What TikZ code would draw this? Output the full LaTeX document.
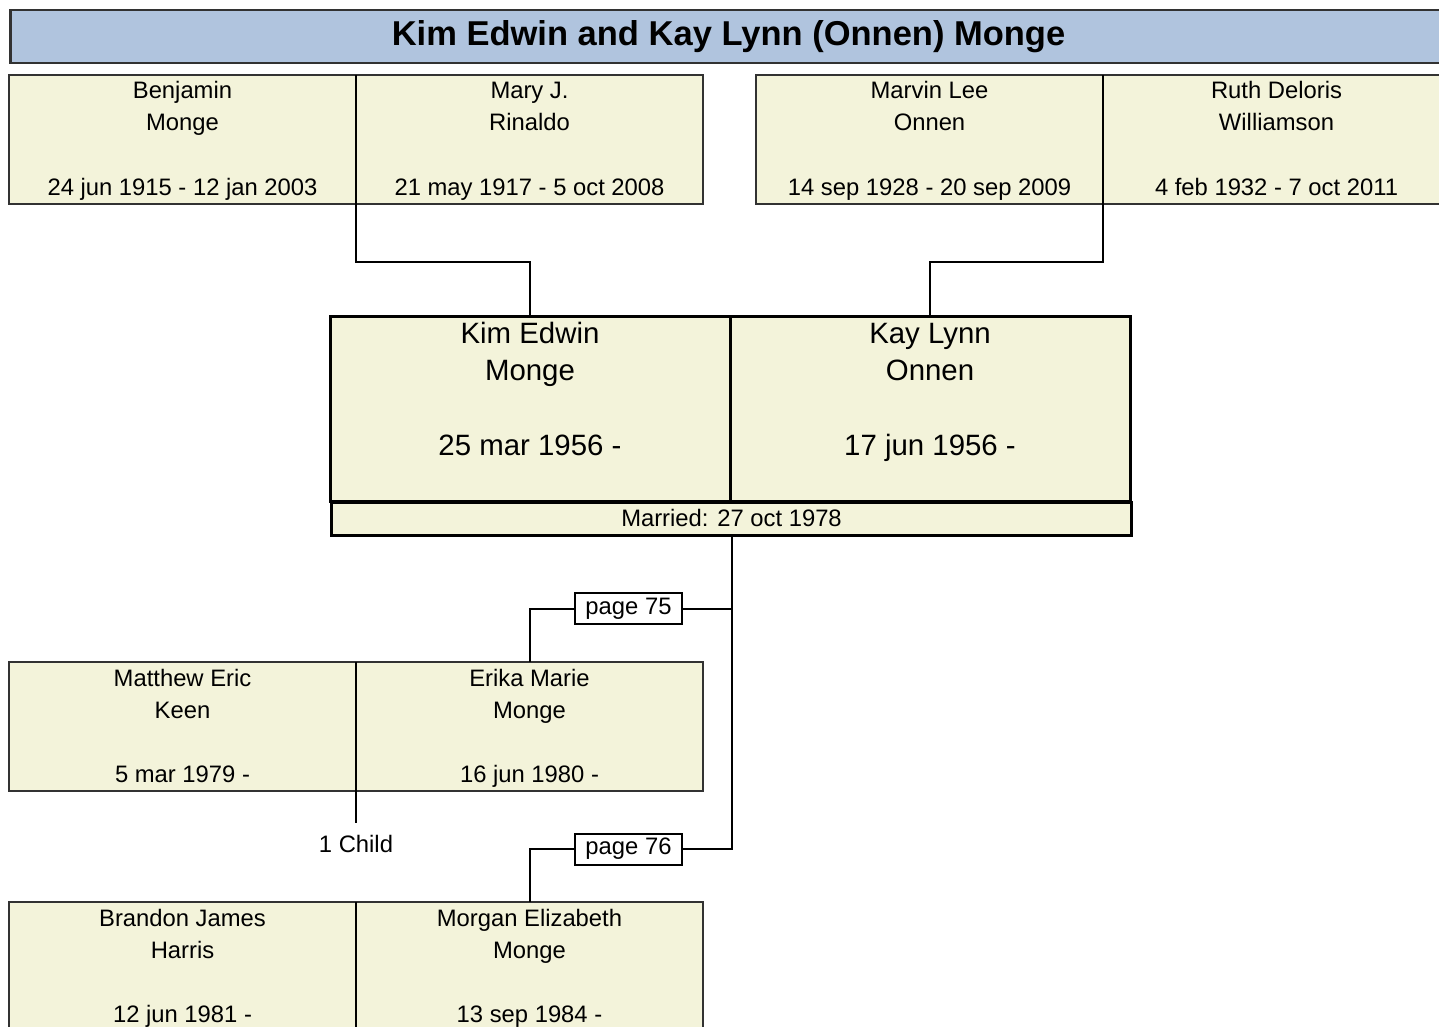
\documentclass[tikz,border=0pt]{standalone}
\usepackage{fontspec}
\setmainfont{Liberation Sans}
\usetikzlibrary{calc}
\definecolor{titlefill}{RGB}{176,196,222}
\definecolor{boxfill}{RGB}{243,243,218}
\definecolor{boxline}{RGB}{50,50,50}
\tikzset{
  pbox/.style={draw=boxline, line width=1.5pt, fill=boxfill, minimum width=347pt,
    minimum height=129pt, anchor=north west, inner sep=0pt, outer sep=0pt},
  mbox/.style={draw=black, line width=3pt, fill=boxfill, minimum width=400pt,
    minimum height=185pt, anchor=north west, inner sep=0pt, outer sep=0pt},
  ptext/.style={anchor=base, font=\fontsize{23.8}{28}\selectfont, inner sep=0pt},
  mtext/.style={anchor=base, font=\fontsize{29.4}{34}\selectfont, inner sep=0pt},
  conn/.style={draw=black, line width=2pt},
  pagebox/.style={draw=black, line width=2pt, fill=white, minimum width=107pt,
    minimum height=31pt, inner sep=0pt, font=\fontsize{23.8}{28}\selectfont},
}
\newcommand\smallperson[6]{%
  \node[pbox] (#1) at (#2,#3) {};
  \node[ptext] (#1-a) at ($(#1.north)+(0,24)$) {#4};
  \node[ptext] (#1-b) at ($(#1.north)+(0,56)$) {#5};
  \node[ptext] (#1-c) at ($(#1.north)+(0,120)$) {#6};
}
\newcommand\mainperson[6]{%
  \node[mbox] (#1) at (#2,#3) {};
  \node[mtext] (#1-a) at ($(#1.north)+(0,27)$) {#4};
  \node[mtext] (#1-b) at ($(#1.north)+(0,64)$) {#5};
  \node[mtext] (#1-c) at ($(#1.north)+(0,139)$) {#6};
}
\begin{document}
\begin{tikzpicture}[x=1pt,y=-1pt]
\useasboundingbox (0,0) rectangle (1439,1027);
\clip (0,0) rectangle (1439,1027);
\fill[white] (0,0) rectangle (1439,1027);
% title
\node[draw=boxline, line width=2.5pt, fill=titlefill, minimum width=1460pt, minimum height=53pt,
  anchor=north west, inner sep=0pt] (titlebar) at (9,9) {};
\node[anchor=base, inner sep=0pt, font=\bfseries\fontsize{34.5}{40}\selectfont] (title) at (728.5,46)
  {Kim Edwin and Kay Lynn (Onnen) Monge};
% grandparents
\smallperson{bm}{9}{75}{Benjamin}{Monge}{24 jun 1915 - 12 jan 2003}
\smallperson{mr}{356}{75}{Mary J.}{Rinaldo}{21 may 1917 - 5 oct 2008}
\smallperson{mo}{756}{75}{Marvin Lee}{Onnen}{14 sep 1928 - 20 sep 2009}
\smallperson{rw}{1103}{75}{Ruth Deloris}{Williamson}{4 feb 1932 - 7 oct 2011}
% main couple
\mainperson{kim}{330}{316}{Kim Edwin}{Monge}{25 mar 1956 -}
\mainperson{kay}{730}{316}{Kay Lynn}{Onnen}{17 jun 1956 -}
\node[draw=black, line width=3pt, fill=boxfill, minimum width=800pt, minimum height=33pt,
  anchor=north west, inner sep=0pt] (mar) at (330,501) {};
\node[ptext] (mar-t) at ($(mar.north)+(0,25)$) {Married: 27 oct 1978};
% children
\smallperson{mk}{9}{662}{Matthew Eric}{Keen}{5 mar 1979 -}
\smallperson{em}{356}{662}{Erika Marie}{Monge}{16 jun 1980 -}
\smallperson{bh}{9}{902}{Brandon James}{Harris}{12 jun 1981 -}
\smallperson{mem}{356}{902}{Morgan Elizabeth}{Monge}{13 sep 1984 -}
% page boxes
\node[pagebox] (p75) at (628.5,608.5) {page 75};
\node[pagebox] (p76) at (628.5,849) {page 76};
% connectors
\draw[conn] (bm.north east) -- (bm.south east) -- ++(0,58) coordinate (j1) -| (kim.north);
\draw[conn] (mo.north east) -- (mo.south east) -- ++(0,58) coordinate (j2) -| (kay.north);
\draw[conn] (kim.north east) -- (kim.south east);
\draw[conn] (mar.south) |- (p76.east);
\draw[conn] (mar.south |- p75.east) -- (p75.east);
\draw[conn] (p75.west) -| (em.north);
\draw[conn] (p76.west) -| (mem.north);
\draw[conn] (mk.north east) -- (mk.south east) -- ++(0,32) coordinate (cc);
\draw[conn] (bh.north east) -- (bh.south east);
\node[ptext] (child) at ($(cc)+(0,29)$) {1 Child};
\end{tikzpicture}
\end{document}
